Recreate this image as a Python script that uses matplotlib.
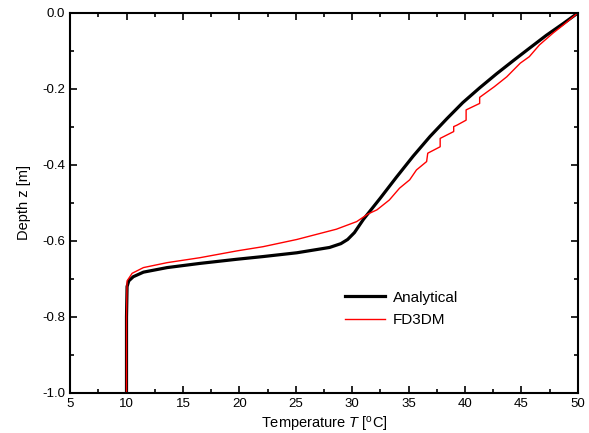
import matplotlib
matplotlib.use("Agg")
import matplotlib.pyplot as plt
from matplotlib.ticker import MultipleLocator, FormatStrFormatter

plt.rcParams['font.family'] = ['Liberation Sans', 'DejaVu Sans']
plt.rcParams['mathtext.fontset'] = 'custom'
plt.rcParams['mathtext.rm'] = 'Liberation Sans'
plt.rcParams['mathtext.it'] = 'Liberation Sans:italic'

# Analytical solution
T_analytical = [10.0, 10.0, 10.05, 10.2, 10.6, 11.5, 13.6, 16.5, 19.8, 22.1, 25.1, 28.0, 29.0,
                29.6, 30.2, 31.0, 32.5, 33.9, 35.4, 36.9, 38.4, 39.8, 41.3, 42.8, 44.3, 45.7,
                47.2, 48.7, 50.0]
z_analytical = [-1.0, -0.80, -0.72, -0.705, -0.694, -0.682, -0.670, -0.659, -0.648, -0.641,
                -0.631, -0.617, -0.607, -0.596, -0.578, -0.543, -0.487, -0.433, -0.377, -0.325,
                -0.278, -0.236, -0.197, -0.160, -0.125, -0.093, -0.059, -0.028, 0.0]

# FD3DM numerical solution
T_fd3dm = [10.0, 10.0, 10.05, 10.5, 11.5, 13.6, 16.5, 19.8, 22.1, 25.1, 28.6, 30.4, 31.4, 32.2,
           33.3, 34.2, 35.1, 35.7, 36.6, 36.7, 37.8, 37.8, 39.0, 39.0, 39.3, 40.1, 40.1, 41.3,
           41.3, 42.6, 43.7, 44.9, 45.7, 46.6, 47.8, 48.7, 50.0]
z_fd3dm = [-1.0, -0.80, -0.705, -0.685, -0.670, -0.657, -0.644, -0.626, -0.615, -0.596, -0.569,
           -0.549, -0.529, -0.518, -0.492, -0.461, -0.439, -0.413, -0.391, -0.369, -0.352, -0.330,
           -0.312, -0.299, -0.295, -0.282, -0.255, -0.238, -0.222, -0.194, -0.168, -0.132,
           -0.115, -0.084, -0.053, -0.032, 0.0]

fig = plt.figure(figsize=(5.89, 4.33), dpi=100)
ax = fig.add_axes([0.119, 0.0924, 0.862, 0.8776])

ax.plot(T_analytical, z_analytical, color='black', linewidth=2.3, label='Analytical',
        solid_joinstyle='round')
ax.plot(T_fd3dm, z_fd3dm, color='red', linewidth=1.0, label='FD3DM')

ax.set_xlim(5, 50)
ax.set_ylim(-1.0, 0.0)
ax.xaxis.set_major_locator(MultipleLocator(5))
ax.xaxis.set_minor_locator(MultipleLocator(2.5))
ax.yaxis.set_major_locator(MultipleLocator(0.2))
ax.yaxis.set_minor_locator(MultipleLocator(0.1))
ax.yaxis.set_major_formatter(FormatStrFormatter('%.1f'))

ax.tick_params(which='both', direction='in', top=True, right=True, width=1.2, labelsize=9.5)
ax.tick_params(which='major', length=5)
ax.tick_params(which='minor', length=3)
for s in ax.spines.values():
    s.set_linewidth(1.5)

ax.set_xlabel(r'Temperature $\it{T}$ [$^{\rm o}$C]', fontsize=10.5, labelpad=3.5)
ax.set_ylabel('Depth z [m]', fontsize=10.5, labelpad=8)

ax.legend(loc='lower left', bbox_to_anchor=(0.527, 0.153), frameon=False, fontsize=11,
          borderpad=0, handlelength=2.6, handletextpad=0.5, labelspacing=0.55)

fig.savefig('out.png', dpi=100)
